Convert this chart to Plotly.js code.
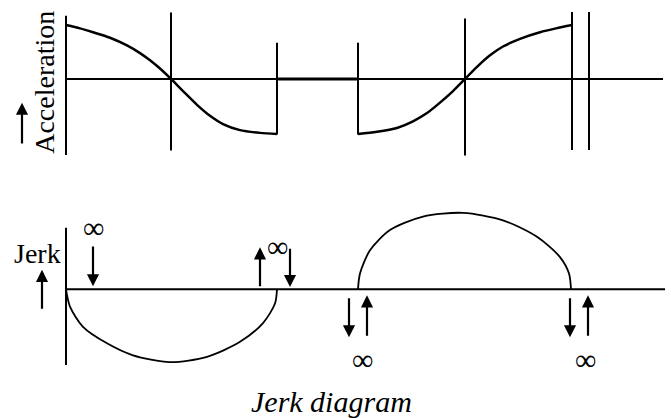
<!DOCTYPE html>
<html>
<head>
<meta charset="utf-8">
<script src="https://cdn.plot.ly/plotly-3.0.1.min.js"></script>
<style>html,body{margin:0;padding:0;background:#fff;}#chart{width:671px;height:418px;}</style>
</head>
<body>
<div id="chart"></div>
<script>
// ---- data (cam angle units, acceleration / jerk in normalised units) ----
const riseX   = [0, 14, 27, 44, 61, 74, 84, 94, 105, 117, 131, 144, 157, 174, 194, 211];
const riseAcc = [0.98, 0.92, 0.85, 0.75, 0.61, 0.47, 0.34, 0.19, 0, -0.22, -0.47, -0.67, -0.82, -0.93, -0.98, -1.0];
const dwellX   = [211, 292];
const dwellAcc = [0, 0];
const returnX   = [292, 311, 331, 347, 361, 374, 387, 399, 411, 424, 437, 454, 474, 490, 506];
const returnAcc = [-1.0, -0.96, -0.89, -0.77, -0.62, -0.43, -0.22, 0, 0.22, 0.43, 0.59, 0.73, 0.85, 0.92, 0.98];

// boundary verticals of the acceleration diagram: x, top, bottom
const accMarkX   = [0, 105, 211, 292, 399, 506, 523];
const accMarkTop = [1.15, 1.21, 0.66, 0.66, 1.10, 1.22, 1.22];
const accMarkBot = [-1.38, -1.30, -1.01, -1.01, -1.39, -1.29, -1.29];
const axisEnd = 597;

const jerkRiseX = [0, 4, 17, 41, 67, 104, 141, 174, 197, 209, 211];
const jerkRise  = [0, -0.23, -0.5, -0.72, -0.88, -0.97, -0.9, -0.7, -0.45, -0.19, 0];
const jerkRetX  = [292, 294, 304, 324, 357, 397, 437, 471, 494, 503, 505];
const jerkRet   = [0, 0.21, 0.52, 0.79, 0.97, 1.02, 0.92, 0.70, 0.43, 0.21, 0];
const jerkAxisTop = 0.82, jerkAxisBot = -1.01;

// infinite-jerk arrows: x, tail y, head y
const infArrowX    = [27, 194, 224, 283, 301, 504, 522];
const infArrowTail = [0.59, 0.02, 0.56, -0.10, -0.64, -0.10, -0.64];
const infArrowHead = [0.04, 0.56, 0.03, -0.64, -0.08, -0.64, -0.08];
// infinity labels: x, y
const infLabelX = [27, 211, 296, 519];
const infLabelY = [0.82, 0.57, -0.94, -0.94];

const labels = {acc: 'Acceleration', jerk: 'Jerk', title: 'Jerk diagram', inf: '\u221E'};

// ---- traces ----
const black = '#000';
const traces = [];
function line(x, y, yaxis, w, shape) {
  traces.push({x: x, y: y, xaxis: 'x', yaxis: yaxis, mode: 'lines', hoverinfo: 'skip',
    line: {color: black, width: w, shape: shape || 'linear', smoothing: 0.8}, showlegend: false});
}
line([0, axisEnd], [0, 0], 'y', 2);
line(riseX, riseAcc, 'y', 2.5, 'spline');
line(dwellX, dwellAcc, 'y', 3);
line(returnX, returnAcc, 'y', 2.5, 'spline');
for (let i = 0; i < accMarkX.length; i++) {
  line([accMarkX[i], accMarkX[i]], [accMarkTop[i], accMarkBot[i]], 'y', 2);
}
line([0, axisEnd + 2], [0, 0], 'y2', 2);
line([0, 0], [jerkAxisTop, jerkAxisBot], 'y2', 2);
line(jerkRiseX, jerkRise, 'y2', 1.8, 'spline');
line(jerkRetX, jerkRet, 'y2', 1.8, 'spline');

// ---- annotations ----
const ann = [];
function arrow(x, tail, head, yref) {
  ann.push({x: x, y: head, ax: x, ay: tail, xref: 'x', yref: yref, axref: 'x', ayref: yref,
    text: '', showarrow: true, arrowhead: 2, arrowsize: 1.1, arrowwidth: 2.2, arrowcolor: black, standoff: 0});
}
for (let i = 0; i < infArrowX.length; i++) arrow(infArrowX[i], infArrowTail[i], infArrowHead[i], 'y2');
arrow(-44, -1.2, -0.43, 'y');   // arrow beside "Acceleration"
arrow(-24, -0.28, 0.26, 'y2');  // arrow under "Jerk"

const serif = 'Times New Roman';
for (let i = 0; i < infLabelX.length; i++) {
  ann.push({x: infLabelX[i], y: infLabelY[i], xref: 'x', yref: 'y2', text: labels.inf, showarrow: false,
    font: {family: serif, size: 30, color: black}});
}
ann.push({x: -21, y: -0.07, xref: 'x', yref: 'y', text: labels.acc, textangle: -90, showarrow: false,
  font: {family: serif, size: 28, color: black}});
ann.push({x: -29, y: 0.48, xref: 'x', yref: 'y2', text: labels.jerk, showarrow: false,
  font: {family: serif, size: 28, color: black}});
ann.push({x: 265, y: -1.50, xref: 'x', yref: 'y2', text: labels.title, showarrow: false,
  font: {family: serif, size: 30, color: black, style: 'italic'}});

const hidden = {visible: false, showgrid: false, zeroline: false, fixedrange: true};
const layout = {
  width: 671, height: 418,
  margin: {l: 0, r: 0, t: 0, b: 0},
  paper_bgcolor: '#fff', plot_bgcolor: '#fff',
  showlegend: false,
  font: {family: serif},
  xaxis: Object.assign({range: [-66, 605], domain: [0, 1]}, hidden),
  yaxis: Object.assign({range: [-2.364, 1.436], domain: [0.5, 1]}, hidden),
  yaxis2: Object.assign({range: [-1.716, 1.071], domain: [0, 0.5], anchor: 'x'}, hidden),
  annotations: ann
};
Plotly.newPlot('chart', traces, layout, {displayModeBar: false, staticPlot: true});
</script>
</body>
</html>
